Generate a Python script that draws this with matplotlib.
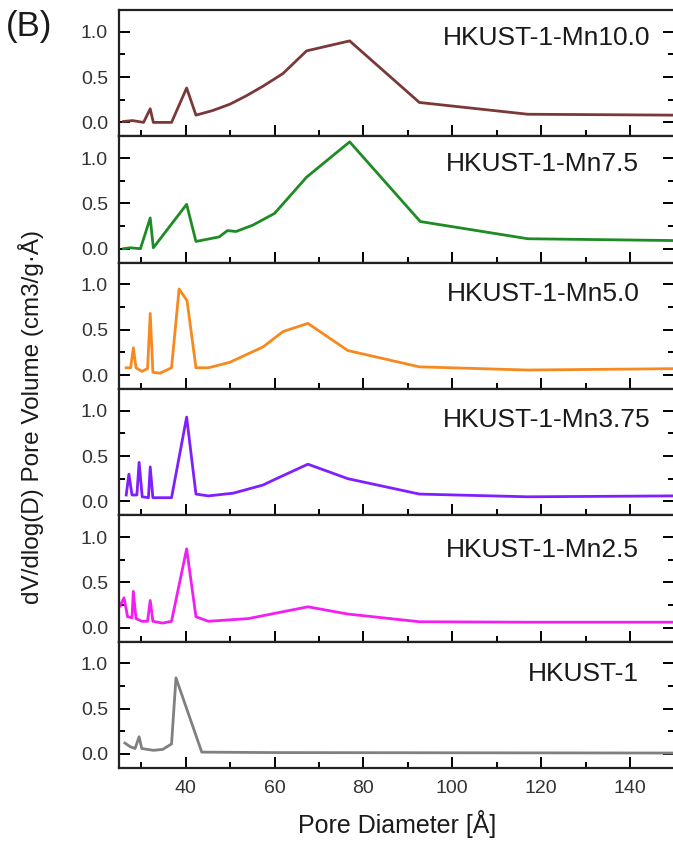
import matplotlib
matplotlib.use("Agg")
import matplotlib.pyplot as plt
from matplotlib.ticker import MultipleLocator

plt.rcParams['font.family'] = ['Liberation Sans', 'DejaVu Sans']

# pore size distributions, top panel first
labels = ['HKUST-1-Mn10.0', 'HKUST-1-Mn7.5', 'HKUST-1-Mn5.0',
          'HKUST-1-Mn3.75', 'HKUST-1-Mn2.5', 'HKUST-1']
colors = ['#7B3838', '#1F8B24', '#F7891F', '#7F1FFF', '#F21EF2', '#808080']

d_mn100 = [26.0, 28.0, 30.5, 32.0, 32.7, 36.8, 40.2, 42.3, 46.0, 49.9, 53.5, 57.4, 61.9, 67.2, 76.9, 92.6, 117.0, 150.0]
v_mn100 = [0.01, 0.02, 0.00, 0.15, 0.00, 0.00, 0.38, 0.08, 0.13, 0.20, 0.29, 0.40, 0.54, 0.79, 0.90, 0.22, 0.09, 0.08]

d_mn75 = [26.0, 27.5, 29.8, 32.0, 32.7, 40.2, 42.3, 47.5, 49.4, 51.3, 55.1, 60.0, 67.2, 76.9, 92.8, 117.0, 150.0]
v_mn75 = [0.00, 0.01, 0.00, 0.34, 0.01, 0.49, 0.08, 0.13, 0.20, 0.19, 0.26, 0.39, 0.79, 1.18, 0.30, 0.11, 0.09]

d_mn50 = [26.6, 27.6, 28.2, 28.8, 30.1, 31.4, 32.0, 32.6, 34.2, 36.8, 38.5, 40.3, 42.3, 45.1, 49.9, 57.4, 61.9, 67.5, 76.5, 92.6, 117.0, 150.0]
v_mn50 = [0.08, 0.08, 0.30, 0.08, 0.04, 0.07, 0.68, 0.03, 0.02, 0.08, 0.95, 0.82, 0.08, 0.08, 0.14, 0.31, 0.48, 0.57, 0.27, 0.09, 0.055, 0.07]

d_mn375 = [26.6, 27.2, 27.9, 29.0, 29.5, 30.2, 31.6, 32.0, 32.6, 36.8, 40.2, 42.3, 45.1, 50.7, 57.4, 60.4, 67.5, 76.5, 92.6, 117.0, 150.0]
v_mn375 = [0.07, 0.30, 0.07, 0.07, 0.43, 0.05, 0.04, 0.38, 0.04, 0.04, 0.93, 0.08, 0.06, 0.09, 0.18, 0.25, 0.41, 0.25, 0.08, 0.05, 0.06]

d_mn25 = [25.2, 26.1, 26.9, 27.9, 28.2, 28.8, 30.1, 31.4, 32.0, 32.6, 34.8, 36.8, 40.2, 42.3, 45.1, 54.1, 67.5, 76.5, 92.6, 117.0, 150.0]
v_mn25 = [0.24, 0.33, 0.12, 0.11, 0.40, 0.10, 0.07, 0.07, 0.30, 0.07, 0.05, 0.07, 0.87, 0.12, 0.07, 0.10, 0.23, 0.15, 0.065, 0.06, 0.06]

d_hk = [26.3, 27.5, 28.6, 29.5, 30.1, 32.7, 34.8, 36.8, 37.8, 43.6, 60.0, 150.0]
v_hk = [0.12, 0.08, 0.06, 0.19, 0.06, 0.04, 0.05, 0.11, 0.84, 0.02, 0.015, 0.01]

series = [(d_mn100, v_mn100), (d_mn75, v_mn75), (d_mn50, v_mn50),
          (d_mn375, v_mn375), (d_mn25, v_mn25), (d_hk, v_hk)]

# label anchors (left edge x in data units, y in data units)
label_pos = [(98.0, 0.93), (98.5, 0.93), (98.8, 0.90), (98.0, 0.90), (98.5, 0.86), (117.0, 0.88)]

fig, axes = plt.subplots(6, 1, figsize=(6.73, 8.43), dpi=100, sharex=True)
fig.subplots_adjust(left=0.177, right=1.002, top=0.988, bottom=0.089, hspace=0)

for ax, (d, v), lab, c, (tx, ty) in zip(axes, series, labels, colors, label_pos):
    ax.plot(d, v, color=c, lw=2.0)
    ax.set_xlim(25, 150)
    ax.set_ylim(-0.155, 1.24)
    ax.yaxis.set_major_locator(MultipleLocator(0.5))
    ax.yaxis.set_minor_locator(MultipleLocator(0.25))
    ax.xaxis.set_major_locator(MultipleLocator(20))
    ax.xaxis.set_minor_locator(MultipleLocator(10))
    ax.tick_params(which='both', direction='in', left=True, right=True,
                   top=False, bottom=True, labelsize=14, width=1.4, pad=9,
                   labelcolor='#333333')
    ax.tick_params(which='major', length=8)
    ax.tick_params(which='minor', length=4)
    ax.tick_params(axis='y', pad=8)
    for s in ax.spines.values():
        s.set_linewidth(1.6)
        s.set_color('#222222')
    ax.text(tx, ty, lab, fontsize=19, ha='left', va='center', color='#1a1a1a')

axes[-1].set_xlabel('Pore Diameter [Å]', fontsize=18, labelpad=9, color='#1a1a1a')
fig.text(0.046, 0.505, 'dV/dlog(D) Pore Volume (cm3/g·Å)', rotation=90,
         fontsize=17.5, ha='center', va='center', color='#1a1a1a')
fig.text(0.008, 0.968, '(B)', fontsize=25, ha='left', va='center', color='#1a1a1a')

fig.savefig('out.png', dpi=100)
